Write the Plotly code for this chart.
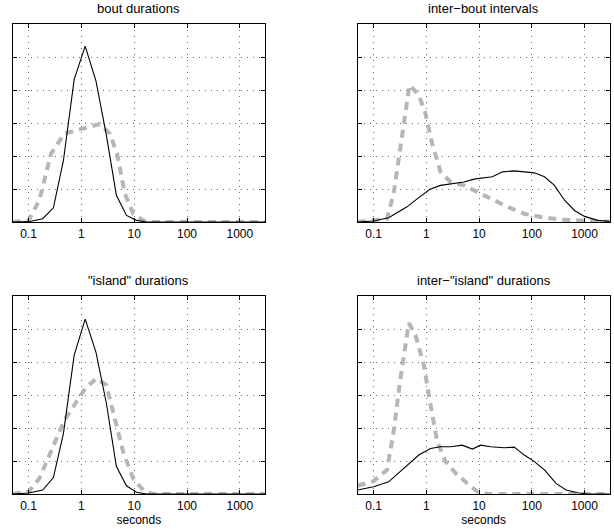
import numpy as np
import plotly.graph_objects as go

titles = ["bout durations", "inter\u2212bout intervals", "\"island\" durations", "inter\u2212\"island\" durations"]

# Panel 1: bout durations
p1_solid_x = [0.05, 0.1, 0.185, 0.295, 0.457, 0.73, 1.18, 1.89, 2.97, 4.6, 7.14, 11.1, 17.2, 3000]
p1_solid_y = [0.0, 0.01, 0.1, 0.43, 1.87, 4.32, 5.33, 4.27, 2.63, 0.81, 0.2, 0.05, 0.0, 0.0]
p1_dash_x = [0.05, 0.1, 0.16, 0.266, 0.478, 1.18, 2.22, 3.44, 4.74, 6.64, 9.55, 14.8, 22, 3000]
p1_dash_y = [0.0, 0.05, 0.66, 2.07, 2.68, 2.86, 2.97, 2.68, 2.07, 0.86, 0.25, 0.05, 0.0, 0.0]

# Panel 2: inter-bout intervals
p2_solid_x = [0.05, 0.1, 0.193, 0.431, 0.67, 1.17, 1.86, 2.9, 5.18, 8.04, 17.9, 27.8, 46.5, 112, 174, 269, 417, 646, 1000, 1780, 3000]
p2_solid_y = [0.0, 0.03, 0.13, 0.46, 0.7, 0.99, 1.11, 1.16, 1.21, 1.3, 1.37, 1.52, 1.55, 1.49, 1.37, 1.11, 0.66, 0.35, 0.17, 0.05, 0.02]
p2_dash_x = [0.05, 0.18, 0.24, 0.32, 0.431, 0.48, 0.72, 0.96, 1.29, 1.86, 2.9, 5.18, 10.7, 19.3, 34.7, 72, 148, 363, 1000, 3000]
p2_dash_y = [0.0, 0.1, 0.86, 2.28, 3.69, 4.15, 3.85, 3.29, 2.38, 1.52, 1.21, 1.11, 0.86, 0.66, 0.46, 0.25, 0.15, 0.07, 0.03, 0.01]

# Panel 3: "island" durations
p3_solid_x = [0.05, 0.1, 0.185, 0.295, 0.457, 0.73, 1.18, 1.89, 2.97, 4.6, 7.14, 11.1, 17.2, 3000]
p3_solid_y = [0.0, 0.03, 0.12, 0.5, 1.84, 4.21, 5.3, 4.29, 2.75, 0.83, 0.25, 0.05, 0.0, 0.0]
p3_dash_x = [0.05, 0.1, 0.16, 0.266, 0.478, 0.74, 1.18, 1.92, 2.97, 4.27, 6.17, 9.55, 14.8, 22, 3000]
p3_dash_y = [0.0, 0.07, 0.47, 1.28, 2.24, 2.7, 3.2, 3.5, 3.3, 2.29, 1.28, 0.47, 0.12, 0.0, 0.0]

# Panel 4: inter-"island" durations
p4_solid_x = [0.05, 0.1, 0.193, 0.431, 0.72, 1.2, 1.86, 2.9, 4.79, 7.46, 10.7, 16.6, 29.9, 46.5, 72, 112, 174, 288, 447, 741, 1150, 3000]
p4_solid_y = [0.12, 0.22, 0.37, 0.88, 1.18, 1.38, 1.43, 1.43, 1.48, 1.36, 1.48, 1.43, 1.4, 1.42, 1.18, 0.98, 0.73, 0.32, 0.12, 0.04, 0.0, 0.0]
p4_dash_x = [0.05, 0.1, 0.18, 0.24, 0.323, 0.465, 0.622, 0.895, 1.2, 1.61, 2.32, 3.6, 6.0, 9.3, 14.5, 3000]
p4_dash_y = [0.25, 0.39, 0.73, 1.89, 3.5, 5.18, 4.82, 3.91, 2.7, 1.59, 0.98, 0.63, 0.32, 0.07, 0.0, 0.0]

panels = [
    (p1_solid_x, p1_solid_y, p1_dash_x, p1_dash_y),
    (p2_solid_x, p2_solid_y, p2_dash_x, p2_dash_y),
    (p3_solid_x, p3_solid_y, p3_dash_x, p3_dash_y),
    (p4_solid_x, p4_solid_y, p4_dash_x, p4_dash_y),
]

x_tickvals = [0.1, 1, 10, 100, 1000]
x_ticktext = ["0.1", "1", "10", "100", "1000"]
y_tickvals = [1, 2, 3, 4, 5]

W, H = 614, 531
xdoms = [[12.7 / W, 265 / W], [357.7 / W, 609.7 / W]]
ydoms = [[1 - 222 / H, 1 - 24 / H], [1 - 494 / H, 1 - 296 / H]]

font_family = "Liberation Sans, Arial, Helvetica, sans-serif"
grid_kw = dict(showgrid=True, gridcolor="#6a6a6a", griddash="1px,5px", gridwidth=1)

fig = go.Figure()
annotations = []
for i, (sx, sy, dx, dy) in enumerate(panels):
    r, c = divmod(i, 2)
    ax = "" if i == 0 else str(i + 1)
    xa, ya = "x" + ax, "y" + ax
    fig.add_trace(go.Scatter(x=dx, y=dy, mode="lines", xaxis=xa, yaxis=ya,
                             line=dict(color="#b6b6b6", width=4, dash="8px,6px"),
                             showlegend=False, hoverinfo="skip"))
    fig.add_trace(go.Scatter(x=sx, y=sy, mode="lines", xaxis=xa, yaxis=ya,
                             line=dict(color="black", width=1.1),
                             showlegend=False, hoverinfo="skip"))
    xkey = "xaxis" + ax
    ykey = "yaxis" + ax
    fig.layout[xkey] = dict(
        type="log", domain=xdoms[c], anchor=ya,
        range=[np.log10(0.05), np.log10(3000)],
        tickvals=x_tickvals, ticktext=x_ticktext,
        ticks="inside", ticklen=4, tickcolor="black", ticklabelstandoff=1,
        showline=True, linecolor="black", linewidth=1, mirror="ticks",
        zeroline=False, tickfont=dict(size=12, color="black", family=font_family),
        title=dict(text="seconds" if r == 1 else "", font=dict(size=12, color="black", family=font_family), standoff=3),
        **grid_kw,
    )
    fig.layout[ykey] = dict(
        domain=ydoms[r], anchor=xa, range=[0, 6],
        tickvals=y_tickvals, ticktext=[""] * 5,
        ticks="inside", ticklen=4, tickcolor="black",
        showline=True, linecolor="black", linewidth=1, mirror="ticks",
        zeroline=False, showticklabels=True,
        **grid_kw,
    )
    annotations.append(dict(
        text=titles[i], xref="paper", yref="paper",
        x=(xdoms[c][0] + xdoms[c][1]) / 2, y=ydoms[r][1] + 6 / H,
        xanchor="center", yanchor="bottom", showarrow=False,
        font=dict(size=13, color="black", family=font_family),
    ))

fig.update_layout(
    width=W, height=H, margin=dict(l=0, r=0, t=0, b=0),
    paper_bgcolor="white", plot_bgcolor="white",
    annotations=annotations, showlegend=False,
    font=dict(family=font_family, color="black"),
)

fig.write_html("out.html", config={"displayModeBar": False},
               post_script="document.body.style.margin='0';document.body.style.padding='0';")
